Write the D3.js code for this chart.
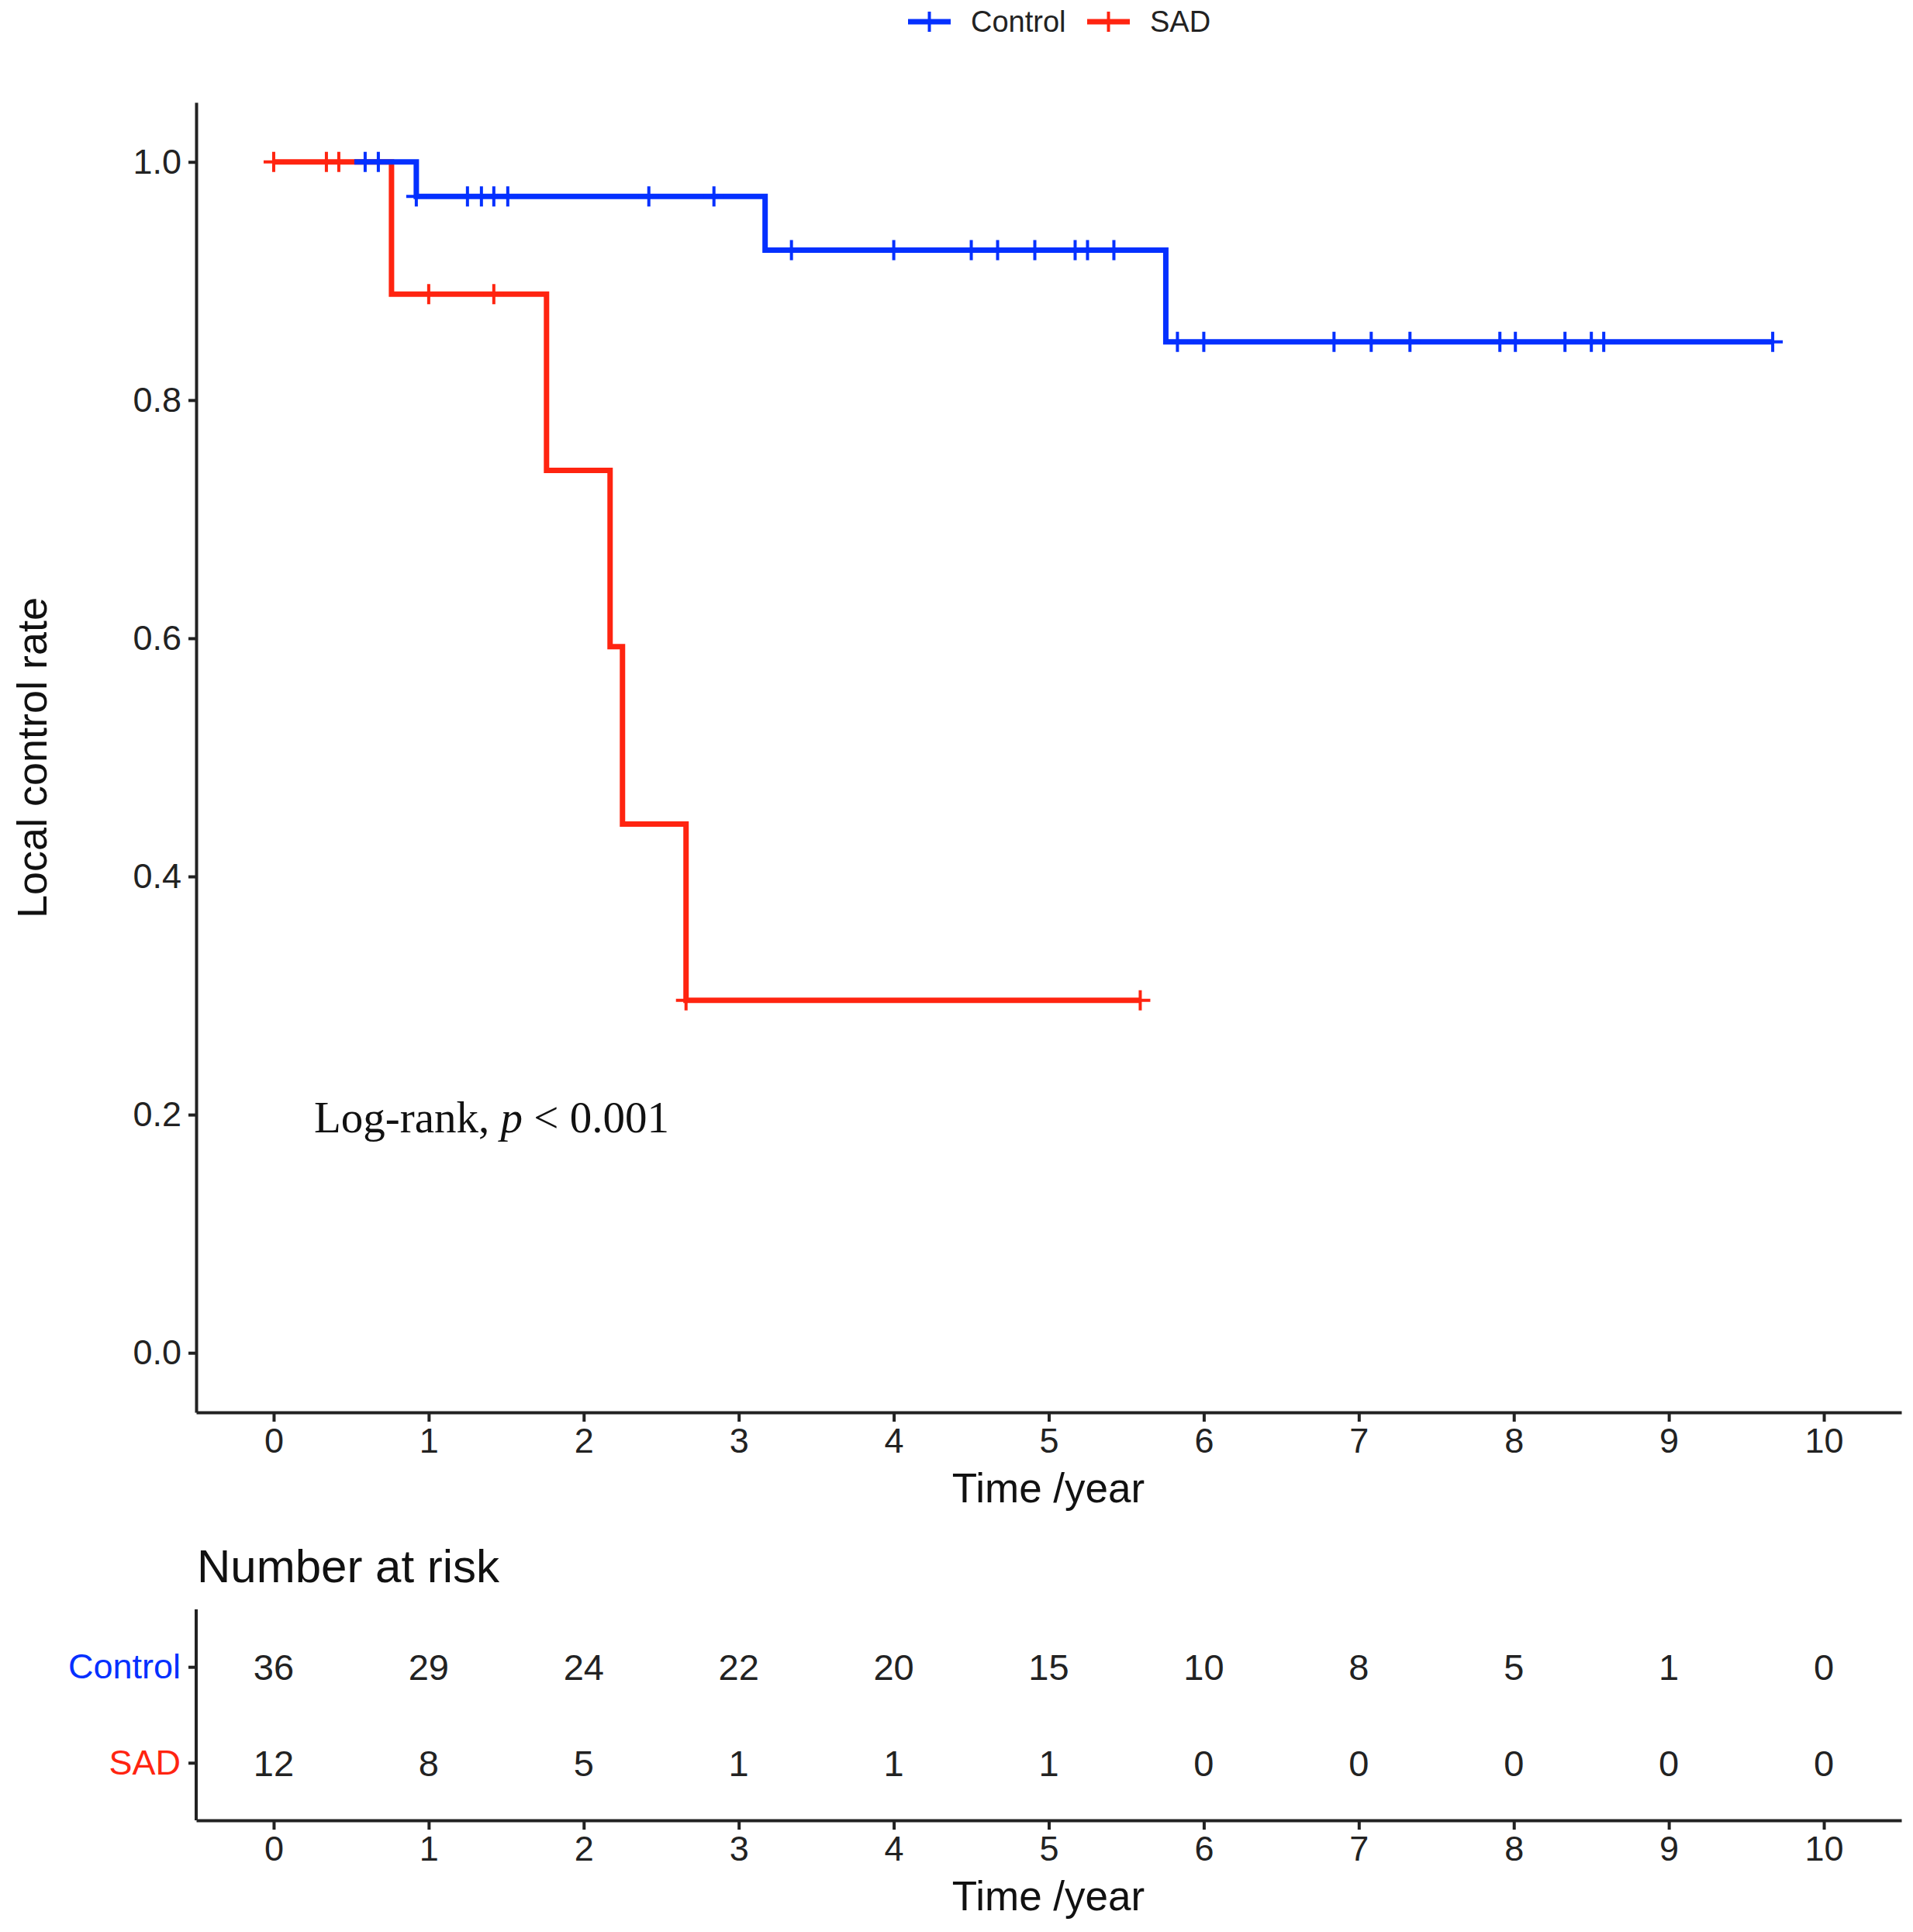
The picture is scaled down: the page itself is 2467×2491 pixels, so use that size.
<!DOCTYPE html>
<html lang="en">
	<head>
		<meta charset="utf-8">
		<title>Local control rate</title>
		<script type="text/javascript" src="https://cdn.jsdelivr.net/npm/d3@7"></script>
		<style type="text/css">
			body { margin: 0; background: #fff; }
			text { font-family: "Liberation Sans", Arial, sans-serif; }
			text.serif { font-family: "Liberation Serif", "Times New Roman", serif; }
		</style>
	</head>
	<body>
		<script type="text/javascript">

			// x ticks / risk table columns
			var years = [0, 1, 2, 3, 4, 5, 6, 7, 8, 9, 10];
			var yTicks = [0, 0.2, 0.4, 0.6, 0.8, 1.0];
			var groups = ["Control", "SAD"];

			// Kaplan-Meier steps
			var controlTime = [0.52, 0.92, 3.17, 5.755];
			var controlSurv = [1.0, 0.971, 0.926, 0.849];
			var controlEnd = 9.67;
			var controlCensor = [0.59, 0.675, 0.92, 1.25, 1.34, 1.42, 1.51, 2.42, 2.84,
				3.34, 4.00, 4.50, 4.67, 4.91, 5.17, 5.25, 5.42,
				5.83, 6.00, 6.84, 7.08, 7.33, 7.91, 8.01, 8.33, 8.50, 8.58, 9.67];

			var sadTime = [0, 0.76, 1.76, 2.17, 2.25, 2.66];
			var sadSurv = [1.0, 0.889, 0.741, 0.593, 0.444, 0.296];
			var sadEnd = 5.59;
			var sadCensor = [0.0, 0.34, 0.42, 1.00, 1.42, 2.66, 5.59];

			// number at risk
			var controlRisk = [36, 29, 24, 22, 20, 15, 10, 8, 5, 1, 0];
			var sadRisk = [12, 8, 5, 1, 1, 1, 0, 0, 0, 0, 0];

			var w = 2467;
			var h = 2491;
			var colors = { Control: "#0430ff", SAD: "#ff2410" };
			var axisColor = "#222";

			var svg = d3.select("body")
						.append("svg")
						.attr("width", w)
						.attr("height", h);

			var xScale = d3.scaleLinear()
						   .domain([-0.5, 10.5])
						   .range([253, 2452]);

			var yScale = d3.scaleLinear()
						   .domain([-0.05, 1.05])
						   .range([1821, 132]);

			var rowScale = d3.scalePoint()
						   .domain(groups)
						   .range([2075, 2347])
						   .padding(0.6);

			function styleAxis(g) {
				g.select(".domain").attr("stroke", axisColor).attr("stroke-width", 4);
				g.selectAll(".tick line").attr("stroke", axisColor).attr("stroke-width", 4);
				g.selectAll(".tick text").attr("fill", "#222").attr("font-size", "45px");
			}

			// main plot axes
			svg.append("g")
			   .attr("transform", "translate(0,1821)")
			   .call(d3.axisBottom(xScale).tickValues(years).tickSizeInner(12).tickSizeOuter(0).tickPadding(8))
			   .call(styleAxis);

			svg.append("g")
			   .attr("transform", "translate(253,0)")
			   .call(d3.axisLeft(yScale).tickValues(yTicks).tickFormat(d3.format(".1f"))
					.tickSizeInner(10).tickSizeOuter(0).tickPadding(9))
			   .call(styleAxis);

			svg.append("text")
			   .attr("x", 1352).attr("y", 1937)
			   .attr("text-anchor", "middle")
			   .attr("font-size", "53px").attr("fill", "#111")
			   .text("Time /year");

			svg.append("text")
			   .attr("transform", "translate(60,977) rotate(-90)")
			   .attr("text-anchor", "middle")
			   .attr("font-size", "54px").attr("fill", "#111")
			   .text("Local control rate");

			// step curves
			function stepPoints(times, surv, end) {
				var pts = [];
				for (var i = 0; i < times.length; i++) {
					if (i > 0) pts.push([times[i], surv[i - 1]]);
					pts.push([times[i], surv[i]]);
				}
				pts.push([end, surv[surv.length - 1]]);
				return pts;
			}

			function survAt(times, surv, t) {
				var s = surv[0];
				for (var i = 0; i < times.length; i++) {
					if (times[i] <= t + 1e-9) s = surv[i];
				}
				return s;
			}

			var line = d3.line()
						 .x(function(d) { return xScale(d[0]); })
						 .y(function(d) { return yScale(d[1]); });

			var curves = [
				{ name: "SAD", times: sadTime, surv: sadSurv, end: sadEnd, censor: sadCensor },
				{ name: "Control", times: controlTime, surv: controlSurv, end: controlEnd, censor: controlCensor }
			];

			curves.forEach(function(c) {
				svg.append("path")
				   .attr("d", line(stepPoints(c.times, c.surv, c.end)))
				   .attr("fill", "none")
				   .attr("stroke", colors[c.name])
				   .attr("stroke-width", 7)
				   .attr("stroke-linejoin", "miter");

				svg.selectAll(".cens-" + c.name)
				   .data(c.censor)
				   .enter()
				   .append("path")
				   .attr("class", "cens-" + c.name)
				   .attr("transform", function(d) {
					return "translate(" + xScale(d) + "," + yScale(survAt(c.times, c.surv, d)) + ")";
				   })
				   .attr("d", "M-13,0H13M0,-13V13")
				   .attr("stroke", colors[c.name])
				   .attr("stroke-width", 4);
			});

			svg.append("text")
			   .attr("class", "serif")
			   .attr("x", 405).attr("y", 1460)
			   .attr("font-size", "57px").attr("fill", "#111")
			   .html('Log-rank, <tspan font-style="italic">p</tspan> &lt; 0.001');

			// legend
			var legend = [
				{ name: "Control", x: 1171 },
				{ name: "SAD", x: 1402 }
			];
			legend.forEach(function(l) {
				var g = svg.append("g").attr("transform", "translate(" + l.x + ",28)");
				g.append("path").attr("d", "M0,0H55").attr("stroke", colors[l.name]).attr("stroke-width", 7);
				g.append("path").attr("d", "M27.5,-13V13").attr("stroke", colors[l.name]).attr("stroke-width", 4);
				g.append("text").attr("x", 81).attr("y", 13)
				 .attr("font-size", "38px").attr("fill", "#222")
				 .text(l.name);
			});

			// risk table
			svg.append("text")
			   .attr("x", 254).attr("y", 2040)
			   .attr("font-size", "60px").attr("fill", "#111")
			   .text("Number at risk");

			svg.append("g")
			   .attr("transform", "translate(0,2347)")
			   .call(d3.axisBottom(xScale).tickValues(years).tickSizeInner(12).tickSizeOuter(0).tickPadding(8))
			   .call(styleAxis);

			var rowAxis = svg.append("g")
			   .attr("transform", "translate(253,0)")
			   .call(d3.axisLeft(rowScale).tickSizeInner(10).tickSizeOuter(0).tickPadding(10));
			rowAxis.select(".domain").attr("stroke", axisColor).attr("stroke-width", 4)
				   .attr("d", "M0,2075V2347");
			rowAxis.selectAll(".tick line").attr("stroke", axisColor).attr("stroke-width", 4);
			rowAxis.selectAll(".tick text")
				   .attr("font-size", "45px")
				   .attr("fill", function(d) { return colors[d]; });

			svg.append("text")
			   .attr("x", 1352).attr("y", 2463)
			   .attr("text-anchor", "middle")
			   .attr("font-size", "53px").attr("fill", "#111")
			   .text("Time /year");

			var riskRows = [
				{ name: "Control", values: controlRisk },
				{ name: "SAD", values: sadRisk }
			];
			riskRows.forEach(function(r) {
				svg.selectAll(".risk-" + r.name)
				   .data(r.values)
				   .enter()
				   .append("text")
				   .attr("class", "risk-" + r.name)
				   .attr("x", function(d, i) { return xScale(years[i]); })
				   .attr("y", rowScale(r.name))
				   .attr("dy", "0.36em")
				   .attr("text-anchor", "middle")
				   .attr("font-size", "47px")
				   .attr("fill", "#222")
				   .text(function(d) { return d; });
			});

		</script>
	</body>
</html>
